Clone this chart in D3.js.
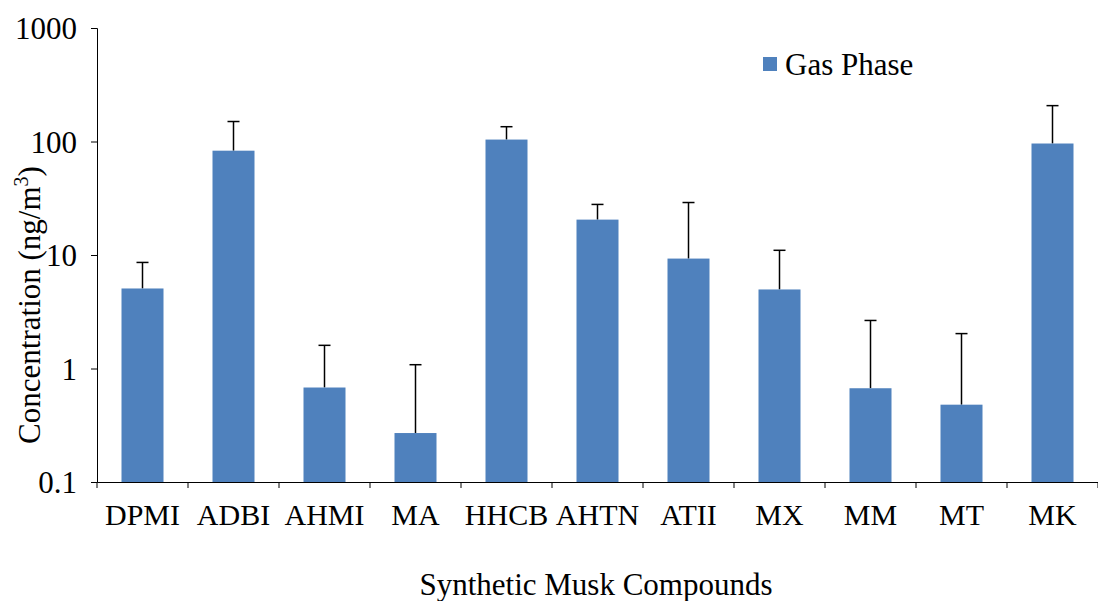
<!DOCTYPE html>
<html><head><meta charset="utf-8">
<script src="https://cdn.jsdelivr.net/npm/d3@7"></script>
<style>body{margin:0;background:#fff}text{font-family:"Liberation Serif","Times New Roman",serif;fill:#000}</style>
</head><body><div id="chart"></div>
<script>
var categories = ["DPMI","ADBI","AHMI","MA","HHCB","AHTN","ATII","MX","MM","MT","MK"];
var values = [5.07,83,0.68,0.27,104,20.5,9.3,4.97,0.67,0.48,96];
var errorTops = [8.6,150,1.6,1.08,135,27.9,29,11,2.65,2.03,207];
var yTicks = [0.1,1,10,100,1000];

var svgWidth = 1098, svgHeight = 601;
var margin = {top: 28, right: 0, bottom: 119, left: 97};
var width = svgWidth - margin.left - margin.right;
var height = svgHeight - margin.top - margin.bottom;

var svg = d3.select("#chart").append("svg")
  .attr("width", svgWidth).attr("height", svgHeight);
var chartGroup = svg.append("g")
  .attr("transform", `translate(${margin.left}, ${margin.top})`);

var x = d3.scaleBand().domain(categories).range([0, width]);
var y = d3.scaleLog().domain([0.1, 1000]).range([height, 0]);

var leftAxis = d3.axisLeft(y).tickValues(yTicks).tickFormat(d => String(d)).tickSize(6).tickPadding(14);
var yAxis = chartGroup.append("g").call(leftAxis);
yAxis.selectAll("text").style("font-size", "31px").attr("dy", "0.35em");

var bottomAxis = d3.axisBottom(x).tickSize(0).tickPadding(22);
var xAxis = chartGroup.append("g").attr("transform", `translate(0, ${height})`).call(bottomAxis);
xAxis.selectAll("text").style("font-size", "30px");
// category separator ticks
xAxis.selectAll(".sep").data(categories.concat([null])).enter().append("line")
  .attr("x1", (d, i) => i * x.bandwidth()).attr("x2", (d, i) => i * x.bandwidth())
  .attr("y1", 0).attr("y2", 6).attr("stroke", "#000");
svg.selectAll(".domain").attr("stroke", "#000");

var barW = 42;
chartGroup.selectAll(".err").data(categories).enter().append("g").each(function(d, i) {
  var cx = x(d) + x.bandwidth() / 2;
  var g = d3.select(this);
  g.append("line").attr("x1", cx).attr("x2", cx).attr("y1", y(values[i])).attr("y2", y(errorTops[i])).attr("stroke", "#000").attr("stroke-width", 1.5);
  g.append("line").attr("x1", cx - 6).attr("x2", cx + 6).attr("y1", y(errorTops[i])).attr("y2", y(errorTops[i])).attr("stroke", "#000").attr("stroke-width", 1.5);
});
chartGroup.selectAll(".bar").data(categories).enter().append("rect")
  .attr("x", d => x(d) + x.bandwidth() / 2 - barW / 2)
  .attr("y", (d, i) => y(values[i]))
  .attr("width", barW)
  .attr("height", (d, i) => height - y(values[i]))
  .attr("fill", "#4f81bd");

svg.append("rect").attr("x", 763).attr("y", 57).attr("width", 14).attr("height", 14).attr("fill", "#4f81bd");
svg.append("text").attr("x", 785).attr("y", 75).style("font-size", "31px").text("Gas Phase");

svg.append("text").attr("x", 596).attr("y", 595).attr("text-anchor", "middle")
  .style("font-size", "31px").text("Synthetic Musk Compounds");

var yl = svg.append("text").attr("transform", "translate(40, 305) rotate(-90)")
  .attr("text-anchor", "middle").style("font-size", "31px");
yl.append("tspan").text("Concentration (ng/m");
yl.append("tspan").attr("dy", -12).style("font-size", "20px").text("3");
yl.append("tspan").attr("dy", 12).text(")");
</script></body></html>
